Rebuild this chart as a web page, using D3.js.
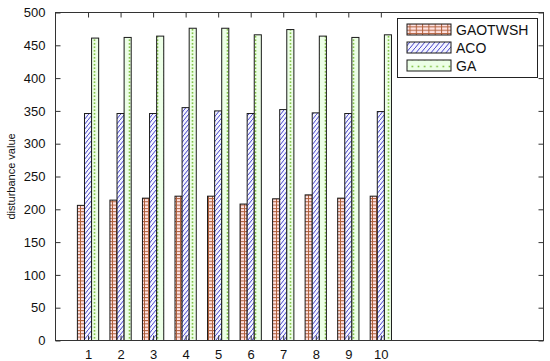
<!DOCTYPE html>
<html><head><meta charset="utf-8">
<script src="https://cdn.jsdelivr.net/npm/d3@7"></script>
<style>body{margin:0;background:#fff}svg{display:block}text{font-family:"Liberation Sans",Arial,sans-serif}</style>
</head><body><svg id="c" width="550" height="361"></svg>
<script>
const categories = [1,2,3,4,5,6,7,8,9,10];
const seriesNames = ["GAOTWSH","ACO","GA"];
const gaotwsh = [206,214,217,220,220,208,216,222,217,220];
const aco = [346,346,346,355,350,346,352,347,346,349];
const ga = [461,462,464,476,476,466,474,464,462,466];
const yTicks = [0,50,100,150,200,250,300,350,400,450,500];
const xTicks = categories;

const svg = d3.select("#c");
const x = d3.scaleLinear().domain([0,15]).range([55.5,543.5]);
const y = d3.scaleLinear().domain([0,500]).range([340.5,12.5]);
const defs = svg.append("defs");

function gridPat(id,w,h){
  const p = defs.append("pattern").attr("id",id).attr("patternUnits","userSpaceOnUse").attr("width",w).attr("height",h);
  p.append("rect").attr("width",w).attr("height",h).attr("fill","#ffe2e2");
  p.append("line").attr("x1",0).attr("x2",w).attr("y1",0.5).attr("y2",0.5).attr("stroke","#b0603c").attr("stroke-width",1);
  p.append("line").attr("x1",0.5).attr("x2",0.5).attr("y1",0).attr("y2",h).attr("stroke","#b0603c").attr("stroke-width",1);
}
function hatchPat(id,w,h){
  const p = defs.append("pattern").attr("id",id).attr("patternUnits","userSpaceOnUse").attr("width",w).attr("height",h);
  p.append("rect").attr("width",w).attr("height",h).attr("fill","#f4f4ff");
  p.append("line").attr("x1",-0.5).attr("y1",h+0.6).attr("x2",w+0.5).attr("y2",-0.6).attr("stroke","#4444cc").attr("stroke-width",1);
}
function dotPat(id,w,h){
  const p = defs.append("pattern").attr("id",id).attr("patternUnits","userSpaceOnUse").attr("width",w).attr("height",h);
  p.append("rect").attr("width",w).attr("height",h).attr("fill","#ecffe6");
  p.append("rect").attr("x",w/2-0.8).attr("y",h/2-0.8).attr("width",1.6).attr("height",1.6).attr("fill","#7cbf3c");
}
gridPat("pRed",4,3.3); hatchPat("pBlue",4,5); dotPat("pGreen",7,3.5);
gridPat("lRed",6.3,3.3); hatchPat("lBlue",5,6); dotPat("lGreen",6.2,7);

const series = [gaotwsh, aco, ga];
const fills = ["pRed","pBlue","pGreen"];
const legFills = ["lRed","lBlue","lGreen"];
const bw = 0.218;

// axes box
const plot = svg.append("g");
plot.append("rect").attr("x",x(0)).attr("y",y(500)).attr("width",x(15)-x(0)).attr("height",y(0)-y(500)).attr("fill","#fff");

series.forEach((vals,si)=>{
  // patterns positioned per bar
  plot.selectAll(null).data(categories).enter().append("rect")
    .attr("x",(d,i)=>x(d+(si-1)*bw-bw/2))
    .attr("width",x(bw)-x(0))
    .attr("y",(d,i)=>y(vals[i]))
    .attr("height",(d,i)=>y(0)-y(vals[i]))
    .attr("fill",`url(#${fills[si]})`)
    .attr("stroke","#1a1a1a").attr("stroke-width",1);
});

const axColor = "#333";
// bottom axis
const xa = d3.axisBottom(x).tickValues(xTicks).tickSize(-5).tickPadding(9).tickFormat(d3.format("d"));
const gx = svg.append("g").attr("transform",`translate(0,${y(0)})`).call(xa);
const xt = d3.axisTop(x).tickValues(xTicks).tickSize(-5).tickFormat("");
const gxt = svg.append("g").attr("transform",`translate(0,${y(500)})`).call(xt);
const ya = d3.axisLeft(y).tickValues(yTicks).tickSize(-5).tickPadding(10);
const gy = svg.append("g").attr("transform",`translate(${x(0)},0)`).call(ya);
const yr = d3.axisRight(y).tickValues(yTicks).tickSize(-5).tickFormat("");
const gyr = svg.append("g").attr("transform",`translate(${x(15)},0)`).call(yr);
[gx,gxt,gy,gyr].forEach(g=>{
  g.select(".domain").remove();
  g.selectAll(".tick line").attr("stroke",axColor);
  g.selectAll("text").attr("fill","#111").style("font-size","13px").style("font-family","'Liberation Sans',Arial,sans-serif");
});
svg.append("rect").attr("x",x(0)).attr("y",y(500)).attr("width",x(15)-x(0)).attr("height",y(0)-y(500))
  .attr("fill","none").attr("stroke",axColor).attr("stroke-width",1);

svg.append("text").attr("transform",`translate(15,${(y(0)+y(500))/2}) rotate(-90)`)
  .attr("text-anchor","middle").style("font-size","11px").attr("fill","#111").text("disturbance value");

// legend
const lg = svg.append("g");
lg.append("rect").attr("x",397.5).attr("y",18.5).attr("width",140).attr("height",59).attr("fill","#fff").attr("stroke","#222");
const rowY = [29.5,47.5,65.5];
seriesNames.forEach((n,i)=>{
  lg.append("rect").attr("x",407).attr("y",rowY[i]-5.5).attr("width",44).attr("height",11)
    .attr("fill",`url(#${legFills[i]})`).attr("stroke","#1a1a1a");
  lg.append("text").attr("x",456).attr("y",rowY[i]+5).style("font-size","14px").attr("fill","#111").text(n);
});
</script></body></html>
